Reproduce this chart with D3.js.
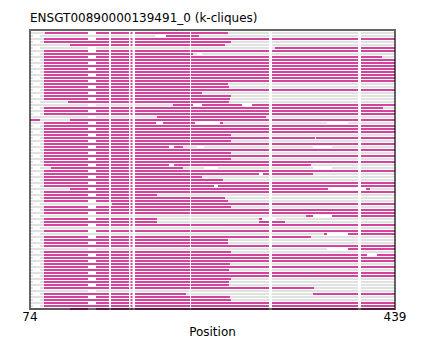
<!DOCTYPE html>
<html>
<head>
<meta charset="utf-8">
<script src="https://cdn.jsdelivr.net/npm/d3@7"></script>
<style>
  html, body { margin: 0; padding: 0; background: #fff; }
  svg { display: block; font-family: "DejaVu Sans", sans-serif; }
</style>
</head>
<body>
<div id="chart"></div>
<script>
// ---------- data ----------
const title = "ENSGT00890000139491_0 (k-cliques)";
const xLabel = "Position";
const xDomain = [74, 439];
const xTickValues = [74, 439];

// alignment columns that are gaps in most sequences
const gapColumns = [[153, 155], [173, 174.5], [176.5, 179], [234, 235], [313, 316], [402, 405]];
// wider gap columns (present in a subset of rows)
const wideGap = [132, 140];
const wideGapRows = [0, 2, 5, 6, 8, 10, 12, 14, 16, 18, 20, 22, 24, 26, 28, 30, 32, 34, 36, 38, 40, 42, 44,
  46, 48, 50, 52, 54, 56, 58, 60, 62, 64, 66, 68, 70, 72, 74, 76, 78, 80, 82, 84, 86, 88, 90, 92];
const leftGap = [77, 84];
const leftGapRows = [1, 3, 5, 7, 9, 11, 13, 15, 17, 19, 21, 23, 25, 27, 31, 33, 35, 37, 39, 41, 43, 45, 47,
  49, 51, 53, 55, 57, 59, 61, 63, 65, 67, 69, 71, 73, 75, 77, 79, 81, 83, 85, 87, 89, 91];

// magenta (k-clique) segments for each row, top to bottom
const cliqueSegments = [
  [[89, 272]],            // 0
  [[210, 243]],           // 1
  [[88, 439]],            // 2
  [[88, 275]],            // 3
  [[114, 269]],           // 4
  [[319, 439]],           // 5
  [[88, 439]],            // 6
  [[88, 237]],            // 7
  [[88, 426]],            // 8
  [[88, 439]],            // 9
  [[88, 439]],            // 10
  [[88, 439]],            // 11
  [[88, 439]],            // 12
  [[88, 439]],            // 13
  [[88, 439]],            // 14
  [[88, 439]],            // 15
  [[88, 439]],            // 16
  [[88, 272]],            // 17
  [[88, 273]],            // 18
  [[88, 439]],            // 19
  [[88, 246]],            // 20
  [[88, 275]],            // 21
  [[88, 274]],            // 22
  [[112, 273]],           // 23
  [[217, 439]],           // 24
  [[88, 427]],            // 25
  [[88, 439]],            // 26
  [[88, 439]],            // 27
  [[201, 310]],           // 28
  [[74, 84], [114, 439]], // 29
  [[88, 200], [207, 239], [264, 267]], // 30
  [[88, 439]],            // 31
  [[88, 439]],            // 32
  [[88, 439]],            // 33
  [[88, 275]],            // 34
  [[88, 439]],            // 35
  [[88, 275]],            // 36
  [[88, 439]],            // 37
  [[88, 213], [218, 227]],// 38
  [[88, 439]],            // 39
  [[88, 275]],            // 40
  [[88, 439]],            // 41
  [[88, 275]],            // 42
  [[88, 439]],            // 43
  [[88, 213], [218, 355]],// 44
  [[95, 227]],            // 45
  [[88, 439]],            // 46
  [[88, 357]],            // 47
  [[88, 246]],            // 48
  [[88, 267]],            // 49
  [[88, 439]],            // 50
  [[88, 439]],            // 51
  [[114, 372], [410, 414]], // 52
  [[88, 439]],            // 53
  [[88, 201]],            // 54
  [[88, 269]],            // 55
  [[88, 272]],            // 56
  [[156, 439]],           // 57
  [[88, 275]],            // 58
  [[88, 439]],            // 59
  [[88, 439]],            // 60
  [[350, 357], [376, 439]], // 61
  [[88, 201], [303, 306]],// 62
  [[88, 201], [303, 329]],// 63
  [[88, 439]],            // 64
  [],                     // 65
  [[88, 439]],            // 66
  [[368, 371], [392, 439]], // 67
  [[88, 355]],            // 68
  [[88, 272]],            // 69
  [[88, 272]],            // 70
  [[88, 439]],            // 71
  [[392, 439]],           // 72
  [[88, 275]],            // 73
  [[88, 411], [421, 439]],// 74
  [[88, 439]],            // 75
  [[88, 439]],            // 76
  [[88, 274]],            // 77
  [[88, 439]],            // 78
  [[88, 273]],            // 79
  [[88, 439]],            // 80
  [[88, 439]],            // 81
  [[88, 275]],            // 82
  [[88, 273]],            // 83
  [[88, 273]],            // 84
  [[88, 358]],            // 85
  [],                     // 86
  [[88, 230], [357, 439]],// 87
  [[88, 274]],            // 88
  [[88, 275]],            // 89
  [[88, 439]],            // 90
  [[88, 439]],            // 91
  [[114, 439]]            // 92
];

// extra gaps in single rows: [row, start, end]
const rowGaps = [
  [7, 241, 246], [24, 237, 246], [24, 286, 296], [30, 200, 207], [30, 239, 264], [30, 371, 392],
  [38, 213, 218], [38, 241, 248], [38, 357, 376], [44, 213, 218], [45, 248, 262], [45, 357, 376],
  [47, 303, 307], [51, 258, 262], [52, 372, 410], [61, 357, 376], [67, 371, 392], [72, 371, 392],
  [74, 411, 421], [35, 359, 360], [62, 306, 320], [1, 199, 210]
];

const nRows = cliqueSegments.length;

// ---------- layout ----------
const W = 425, H = 339;
const plot = { left: 30, right: 395, top: 30, bottom: 309 };
const colors = { clique: "#d3449c", seq: "#e1e1e1", gap: "#ffffff" };

const svg = d3.select("#chart").append("svg")
  .attr("width", W).attr("height", H);

const x = d3.scaleLinear().domain(xDomain).range([plot.left, plot.right]);
const y = d3.scaleLinear().domain([0, nRows - 1]).range([33, 33 + 3 * (nRows - 1)]);
const lineH = 2;

const rows = svg.append("g").selectAll("g.row")
  .data(cliqueSegments.map((segs, i) => ({ i, segs })))
  .join("g").attr("class", "row");

rows.append("rect")
  .attr("x", x(74.5)).attr("width", x(439) - x(74.5))
  .attr("y", d => y(d.i) - lineH / 2).attr("height", lineH)
  .attr("fill", colors.seq);

rows.selectAll("rect.clique")
  .data(d => d.segs.map(s => ({ i: d.i, s })))
  .join("rect").attr("class", "clique")
  .attr("x", d => x(d.s[0])).attr("width", d => x(d.s[1]) - x(d.s[0]))
  .attr("y", d => y(d.i) - lineH / 2).attr("height", lineH)
  .attr("fill", colors.clique);

const allGaps = [];
for (let i = 0; i < nRows; i++) gapColumns.forEach(g => allGaps.push({ i, s: g }));
wideGapRows.forEach(i => allGaps.push({ i, s: wideGap }));
leftGapRows.forEach(i => allGaps.push({ i, s: leftGap }));
rowGaps.forEach(r => allGaps.push({ i: r[0], s: [r[1], r[2]] }));

svg.append("g").selectAll("rect")
  .data(allGaps).join("rect")
  .attr("x", d => x(d.s[0])).attr("width", d => x(d.s[1]) - x(d.s[0]))
  .attr("y", d => y(d.i) - lineH / 2).attr("height", lineH)
  .attr("fill", colors.gap);

svg.append("rect")
  .attr("x", plot.left).attr("y", plot.top)
  .attr("width", plot.right - plot.left).attr("height", plot.bottom - plot.top)
  .attr("fill", "none").attr("stroke", "#000").attr("stroke-opacity", 0.6)
  .attr("stroke-width", 2);

svg.append("g").selectAll("text")
  .data(xTickValues).join("text")
  .attr("x", d => x(d)).attr("y", 321)
  .attr("text-anchor", "middle").attr("font-size", 12).attr("fill", "#000")
  .text(d => d);

svg.append("text")
  .attr("x", (plot.left + plot.right) / 2).attr("y", 336)
  .attr("text-anchor", "middle").attr("font-size", 12).attr("fill", "#000")
  .text(xLabel);

svg.append("text")
  .attr("x", plot.left).attr("y", 22)
  .attr("font-size", 12).attr("fill", "#000")
  .text(title);
</script>
</body>
</html>
